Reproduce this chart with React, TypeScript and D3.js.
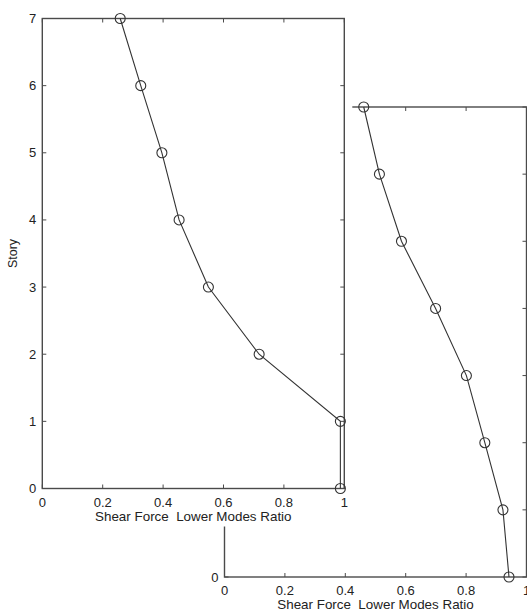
import { useRef, useEffect } from "react";
import * as d3 from "d3";

const stories = [0, 1, 2, 3, 4, 5, 6, 7];
const ratioUpper = [0.987, 0.987, 0.718, 0.55, 0.453, 0.396, 0.326, 0.258];
const ratioLower = [0.942, 0.922, 0.862, 0.801, 0.699, 0.586, 0.513, 0.461];
const xTicks = [0, 0.2, 0.4, 0.6, 0.8, 1];
const yTicks = [0, 1, 2, 3, 4, 5, 6, 7];
const yLabelsFront = [0, 1, 2, 3, 4, 5, 6, 7];
const yLabelsBack = [0]; // the rest sit under the front figure
const xTitle = "Shear Force  Lower Modes Ratio";
const yTitle = "Story";

const W = 527;
const H = 614;
const PW = 302; // plot box width
const PH = 470; // plot box height

export default function App() {
  const ref = useRef<SVGSVGElement>(null);

  useEffect(() => {
    if (!ref.current) return;
    const svg = d3.select(ref.current);
    svg.selectAll("*").remove();

    const ink = "#333";
    const axisInk = "#4a4a4a";
    const font = "Liberation Sans, Arial, sans-serif";

    const drawPanel = (
      left: number,
      top: number,
      values: number[],
      yLabels: number[],
      cover: boolean
    ) => {
      const g = svg.append("g");
      if (cover) {
        // the front figure hides the one behind it
        g.append("rect")
          .attr("x", 0)
          .attr("y", 0)
          .attr("width", left + PW + 8)
          .attr("height", top + PH + 38)
          .attr("fill", "#fff");
      }
      const x = d3.scaleLinear().domain([0, 1]).range([left, left + PW]);
      const y = d3.scaleLinear().domain([0, 7]).range([top + PH, top]);

      // inward ticks on all four sides
      const tk = 4;
      xTicks.forEach((t) => {
        g.append("line").attr("x1", x(t)).attr("x2", x(t))
          .attr("y1", y(0)).attr("y2", y(0) - tk)
          .attr("stroke", axisInk).attr("stroke-width", 1);
        g.append("line").attr("x1", x(t)).attr("x2", x(t))
          .attr("y1", y(7)).attr("y2", y(7) + tk)
          .attr("stroke", axisInk).attr("stroke-width", 1);
        g.append("text")
          .attr("x", x(t)).attr("y", y(0) + 18)
          .attr("text-anchor", "middle")
          .style("font-family", font)
          .style("font-size", "13px")
          .attr("fill", "#222")
          .text(String(t));
      });
      yTicks.forEach((t) => {
        g.append("line").attr("x1", x(0)).attr("x2", x(0) + tk)
          .attr("y1", y(t)).attr("y2", y(t))
          .attr("stroke", axisInk).attr("stroke-width", 1);
        g.append("line").attr("x1", x(1)).attr("x2", x(1) - tk)
          .attr("y1", y(t)).attr("y2", y(t))
          .attr("stroke", axisInk).attr("stroke-width", 1);
      });
      yLabels.forEach((t) => {
        g.append("text")
          .attr("x", x(0) - 6).attr("y", y(t) + 4.5)
          .attr("text-anchor", "end")
          .style("font-family", font)
          .style("font-size", "13px")
          .attr("fill", "#222")
          .text(String(t));
      });

      g.append("rect")
        .attr("x", x(0)).attr("y", y(7))
        .attr("width", PW).attr("height", PH)
        .attr("fill", "none")
        .attr("stroke", axisInk)
        .attr("stroke-width", 1.4);

      g.append("text")
        .attr("x", (x(0) + x(1)) / 2).attr("y", y(0) + 32)
        .attr("text-anchor", "middle")
        .style("font-family", font)
        .style("font-size", "13.4px")
        .style("white-space", "pre")
        .attr("fill", "#222")
        .text(xTitle);

      if (cover) {
        g.append("text")
          .attr("transform", `translate(${x(0) - 25},${(y(0) + y(7)) / 2}) rotate(-90)`)
          .attr("text-anchor", "middle")
          .style("font-family", font)
          .style("font-size", "12.5px")
          .attr("fill", "#222")
          .text(yTitle);
      }

      const line = d3.line<number>()
        .x((d) => x(values[d]))
        .y((d) => y(stories[d]));
      g.append("path")
        .attr("d", line(d3.range(stories.length))!)
        .attr("fill", "none")
        .attr("stroke", ink)
        .attr("stroke-width", 1.1);

      g.selectAll(null)
        .data(stories)
        .enter()
        .append("circle")
        .attr("cx", (_, i) => x(values[i]))
        .attr("cy", (d) => y(d))
        .attr("r", 5)
        .attr("fill", "none")
        .attr("stroke", ink)
        .attr("stroke-width", 1.1);
    };

    drawPanel(224.5, 107, ratioLower, yLabelsBack, false);
    drawPanel(42.3, 18.5, ratioUpper, yLabelsFront, true);
  }, []);

  return (
    <svg
      ref={ref}
      width={W}
      height={H}
      style={{ position: "absolute", left: 0, top: 0, background: "#fff" }}
    />
  );
}
